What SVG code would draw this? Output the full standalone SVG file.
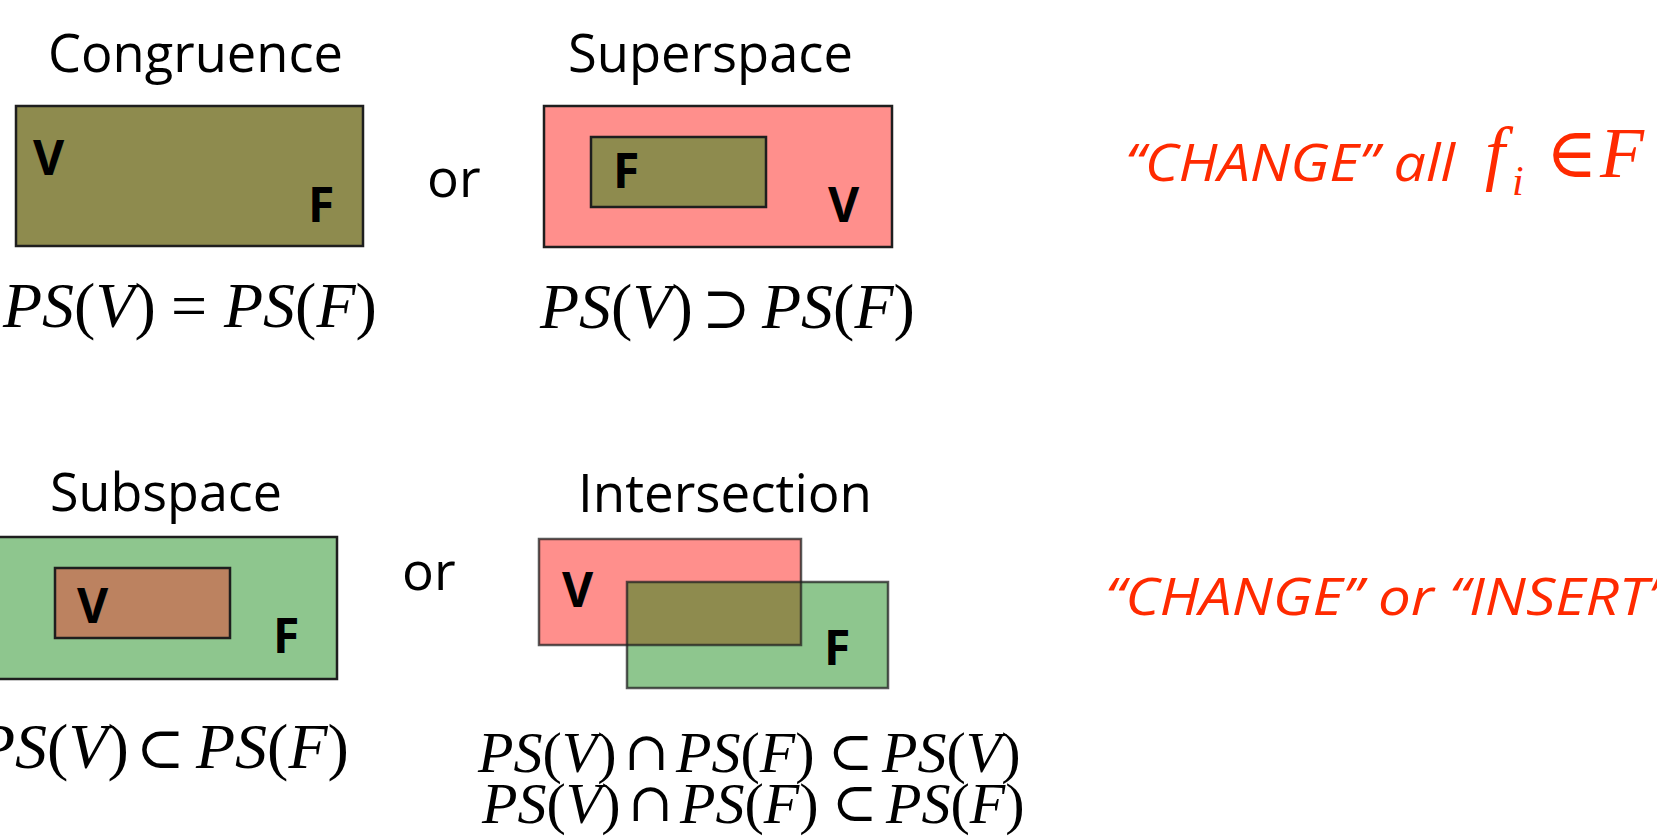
<svg xmlns="http://www.w3.org/2000/svg" width="1657" height="838" viewBox="0 0 1657 838">
<style>
.bg{fill:#ffffff}
.title{font-family:"Open Sans","Liberation Sans",sans-serif;font-size:53px;fill:#000}
.lbl{font-family:"Open Sans","Liberation Sans",sans-serif;font-weight:700;font-size:48px;fill:#000}
.or{font-family:"Open Sans","Liberation Sans",sans-serif;font-size:53px;fill:#000}
.math{font-family:"Liberation Serif","DejaVu Serif",serif;font-size:64px;fill:#000}
.math2{font-family:"Liberation Serif","DejaVu Serif",serif;font-size:58px;fill:#000}
.op{font-family:"DejaVu Serif","Liberation Serif",serif;font-size:58px;font-style:normal}
.op2{font-family:"DejaVu Serif","Liberation Serif",serif;font-size:54px;font-style:normal}
.eq{font-family:"Liberation Serif","DejaVu Serif",serif;font-size:64px;font-style:normal}
.it{font-style:italic}
.red{font-family:"Open Sans","Liberation Sans",sans-serif;font-style:italic;font-size:52px;fill:#FF2A00}
.redm{font-family:"Liberation Serif","DejaVu Serif",serif;fill:#FF2A00}
.olive{fill:#8E8B4E}
.pink{fill:#FF8F8C}
.green{fill:#8EC68E}
.brown{fill:#BC8260}
.box{stroke:#1e1e1e;stroke-width:2.5}
.tbox{fill:none;stroke:#222;stroke-opacity:0.75;stroke-width:2.5}
</style>
<rect class="bg" x="0" y="0" width="1657" height="838"/>

<g id="congruence">
  <text class="title" x="48" y="72" textLength="295" lengthAdjust="spacingAndGlyphs">Congruence</text>
  <rect class="olive box" x="16" y="106" width="347" height="140"/>
  <text class="lbl" x="33" y="175">V</text>
  <text class="lbl" x="308" y="222">F</text>
  <text class="math" y="327"><tspan class="it" x="3">PS</tspan>(<tspan class="it">V</tspan>)<tspan class="eq" x="171">=</tspan><tspan class="it" x="224">PS</tspan>(<tspan class="it">F</tspan>)</text>
</g>

<text class="or" x="427" y="197">or</text>

<g id="superspace">
  <text class="title" x="568" y="72" textLength="285" lengthAdjust="spacingAndGlyphs">Superspace</text>
  <rect class="pink box" x="544" y="106" width="348" height="141"/>
  <rect class="olive box" x="591" y="137" width="175" height="70"/>
  <text class="lbl" x="613" y="188">F</text>
  <text class="lbl" x="828" y="222">V</text>
  <text class="math" y="328"><tspan class="it" x="540">PS</tspan>(<tspan class="it">V</tspan>)<tspan class="op" x="702">⊃</tspan><tspan class="it" x="762">PS</tspan>(<tspan class="it">F</tspan>)</text>
</g>

<g id="note-change">
  <text class="red" x="1125" y="181" textLength="330" lengthAdjust="spacingAndGlyphs">“CHANGE” all</text>
  <text class="redm" y="177"><tspan class="it" x="1485" font-size="72">f</tspan><tspan class="it" x="1512" y="195" font-size="42">i</tspan><tspan x="1546" y="177" font-size="70" font-family="DejaVu Serif">∈</tspan><tspan class="it" x="1600" y="177" font-size="72">F</tspan></text>
</g>

<g id="subspace">
  <text class="title" x="50" y="511" textLength="232" lengthAdjust="spacingAndGlyphs">Subspace</text>
  <rect class="green box" x="-5" y="537" width="342" height="142"/>
  <rect class="brown box" x="55" y="568" width="175" height="70"/>
  <text class="lbl" x="77" y="623">V</text>
  <text class="lbl" x="273" y="653">F</text>
  <text class="math" y="768"><tspan class="it" x="-24">PS</tspan>(<tspan class="it">V</tspan>)<tspan class="op" x="136">⊂</tspan><tspan class="it" x="196">PS</tspan>(<tspan class="it">F</tspan>)</text>
</g>

<text class="or" x="402" y="590">or</text>

<g id="intersection">
  <text class="title" x="578" y="512" textLength="294" lengthAdjust="spacingAndGlyphs">Intersection</text>
  <rect class="pink" x="539" y="539" width="262" height="106"/>
  <rect class="green" x="627" y="582" width="261" height="106"/>
  <rect class="olive" x="627" y="582" width="174" height="63"/>
  <rect class="tbox" x="539" y="539" width="262" height="106"/>
  <rect class="tbox" x="627" y="582" width="261" height="106"/>
  <text class="lbl" x="562" y="607">V</text>
  <text class="lbl" x="824" y="665">F</text>
  <text class="math2"><tspan class="it" x="478" y="772">PS</tspan>(<tspan class="it">V</tspan>)<tspan class="op2" x="624" y="770">∩</tspan><tspan class="it" x="676" y="772">PS</tspan>(<tspan class="it">F</tspan>)<tspan class="op2" x="828" y="770">⊂</tspan><tspan class="it" x="882" y="772">PS</tspan>(<tspan class="it">V</tspan>)<tspan class="it" x="482" y="823">PS</tspan>(<tspan class="it">V</tspan>)<tspan class="op2" x="628" y="821">∩</tspan><tspan class="it" x="680" y="823">PS</tspan>(<tspan class="it">F</tspan>)<tspan class="op2" x="832" y="821">⊂</tspan><tspan class="it" x="886" y="823">PS</tspan>(<tspan class="it">F</tspan>)</text>
</g>

<g id="note-change-insert">
  <text class="red" x="1105" y="615" textLength="563" lengthAdjust="spacingAndGlyphs">“CHANGE” or “INSERT”</text>
</g>
</svg>
